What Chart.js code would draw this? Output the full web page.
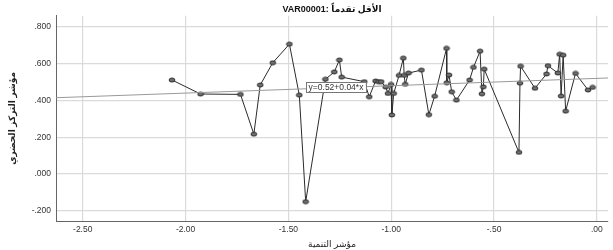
<!DOCTYPE html>
<html>
<head>
<meta charset="utf-8">
<script src="https://cdn.jsdelivr.net/npm/chart.js@4"></script>
<style>
  body { margin: 0; background: #fff; }
</style>
</head>
<body>
<canvas id="chart" width="613" height="250"></canvas>
<script>
// development index (x) and urban concentration index (y), in drawing order
const devIndex = [-2.066, -1.927, -1.733, -1.668, -1.637, -1.576, -1.495, -1.447, -1.416, -1.320,
  -1.277, -1.252, -1.241, -1.131, -1.107, -1.076, -1.062, -1.049, -1.027, -1.016,
  -1.001, -0.997, -0.988, -0.962, -0.941, -0.937, -0.932, -0.916, -0.853, -0.817,
  -0.789, -0.731, -0.730, -0.719, -0.706, -0.683, -0.619, -0.600, -0.568, -0.559,
  -0.552, -0.548, -0.379, -0.374, -0.371, -0.301, -0.245, -0.238, -0.190, -0.181,
  -0.174, -0.164, -0.152, -0.104, -0.043, -0.021];
const urbanIndex = [0.511, 0.435, 0.433, 0.217, 0.484, 0.605, 0.706, 0.429, -0.150, 0.515,
  0.555, 0.620, 0.527, 0.502, 0.420, 0.506, 0.502, 0.502, 0.473, 0.438,
  0.487, 0.321, 0.438, 0.536, 0.630, 0.536, 0.488, 0.549, 0.565, 0.323,
  0.423, 0.683, 0.496, 0.538, 0.447, 0.402, 0.511, 0.580, 0.668, 0.436,
  0.474, 0.570, 0.118, 0.494, 0.586, 0.466, 0.544, 0.589, 0.549, 0.651,
  0.424, 0.646, 0.342, 0.547, 0.457, 0.471];

const fitIntercept = 0.52;
const fitSlope = 0.04;
const fitLabel = 'y=0.52+0.04*x';
const fitLabelAt = -1.414;

const xTicks = [-2.5, -2.0, -1.5, -1.0, -0.5, 0];
const yTicks = [-0.2, 0, 0.2, 0.4, 0.6, 0.8];
const xRange = [-2.63, 0.054];
const yRange = [-0.255, 0.86];

const titleText = 'VAR00001: الأقل تقدماً';
const xTitle = 'مؤشر التنمية';
const yTitle = 'مؤشر التركز الحضري';

const FONT = '"Liberation Sans", "DejaVu Sans", Arial, sans-serif';

// spss-like fmt: drop the leading zero
function fmt(v, d) {
  const r = Math.round(v * 1000) / 1000 + 0;
  return r.toFixed(d).replace(/^(-?)0\./, '$1.');
}

// small ellipse marker
const marker = document.createElement('canvas');
marker.width = 8; marker.height = 6;
(function () {
  const c = marker.getContext('2d');
  c.beginPath();
  c.ellipse(4, 3, 2.9, 2.0, 0, 0, Math.PI * 2);
  c.fillStyle = '#6e6e6e';
  c.fill();
  c.lineWidth = 1;
  c.strokeStyle = '#2e2e2e';
  c.stroke();
})();

const points = devIndex.map((x, i) => ({ x: x, y: urbanIndex[i] }));
const fitLine = xRange.map(x => ({ x: x, y: fitIntercept + fitSlope * x }));

const fitLabelPlugin = {
  id: 'fitLabel',
  afterDatasetsDraw(chart) {
    const { ctx, scales } = chart;
    const px = scales.x.getPixelForValue(fitLabelAt);
    const py = scales.y.getPixelForValue(fitIntercept + fitSlope * fitLabelAt) - 1.5;
    ctx.save();
    ctx.font = '8.5px ' + FONT;
    const w = ctx.measureText(fitLabel).width + 5;
    const h = 10;
    ctx.fillStyle = '#fff';
    ctx.fillRect(px, py - h / 2, w, h);
    ctx.strokeStyle = '#777';
    ctx.lineWidth = 1;
    ctx.strokeRect(Math.round(px) + 0.5, Math.round(py - h / 2) + 0.5, Math.round(w), h);
    ctx.fillStyle = '#333';
    ctx.textBaseline = 'middle';
    ctx.fillText(fitLabel, px + 2.5, py + 0.5);
    ctx.restore();
  }
};

new Chart(document.getElementById('chart').getContext('2d'), {
  type: 'scatter',
  data: {
    datasets: [
      {
        data: fitLine,
        showLine: true,
        borderColor: '#999',
        borderWidth: 1,
        pointRadius: 0
      },
      {
        data: points,
        showLine: true,
        borderColor: '#2b2b2b',
        borderWidth: 1,
        pointStyle: marker,
        pointRadius: 3
      }
    ]
  },
  options: {
    responsive: false,
    animation: false,
    layout: { padding: 0 },
    plugins: {
      legend: { display: false },
      tooltip: { enabled: false },
      title: {
        display: true,
        text: titleText,
        fullSize: false,
        color: '#111',
        font: { family: FONT, size: 9, weight: 'bold' },
        padding: { top: 4, bottom: 1 }
      }
    },
    scales: {
      x: {
        type: 'linear',
        min: xRange[0],
        max: xRange[1],
        afterBuildTicks: (scale) => { scale.ticks = xTicks.map(v => ({ value: v })); },
        afterFit: (scale) => { scale.height = 29; },
        grid: { color: '#dadada', lineWidth: 1.2, drawTicks: false },
        border: { color: '#666', width: 1 },
        ticks: {
          padding: 4,
          color: '#333',
          font: { family: FONT, size: 8.5 },
          callback: (v) => fmt(v, 2)
        },
        title: {
          display: true,
          text: xTitle,
          color: '#222',
          font: { family: FONT, size: 9 },
          padding: { top: 0, bottom: 0 }
        }
      },
      y: {
        type: 'linear',
        min: yRange[0],
        max: yRange[1],
        afterBuildTicks: (scale) => { scale.ticks = yTicks.map(v => ({ value: v })); },
        afterFit: (scale) => { scale.width = 56; },
        grid: { color: '#dadada', lineWidth: 1.2, drawTicks: false },
        border: { color: '#666', width: 1 },
        ticks: {
          padding: 5,
          color: '#333',
          font: { family: FONT, size: 8.5 },
          callback: (v) => fmt(v, 3)
        },
        title: {
          display: true,
          text: yTitle,
          color: '#222',
          font: { family: FONT, size: 9, weight: 'bold' },
          padding: { top: 7, bottom: 0 }
        }
      }
    }
  },
  plugins: [fitLabelPlugin]
});
</script>
</body>
</html>
